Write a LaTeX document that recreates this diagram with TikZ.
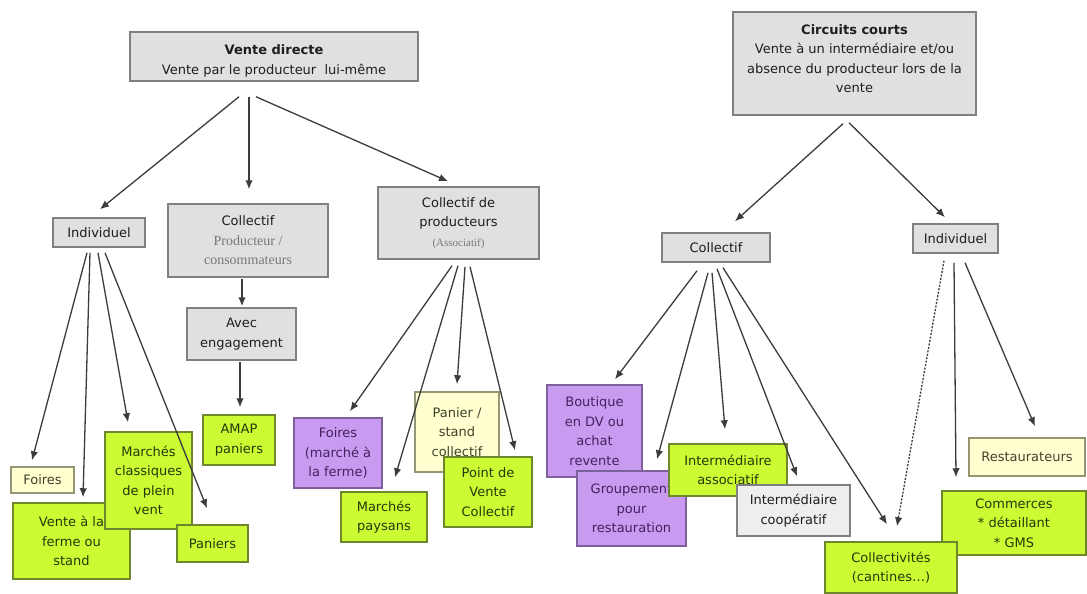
\documentclass[tikz,border=0pt]{standalone}
\usepackage{fontspec}
\setmainfont{DejaVu Sans}
\newfontfamily\serifgrey{Liberation Serif}
\usetikzlibrary{arrows.meta}

\definecolor{greyfill}{RGB}{224,224,224}
\definecolor{greydraw}{RGB}{128,128,128}
\definecolor{palefill}{RGB}{238,238,238}
\definecolor{limefill}{RGB}{204,250,51}
\definecolor{limedraw}{RGB}{110,135,45}
\definecolor{limetext}{RGB}{40,55,10}
\definecolor{purplefill}{RGB}{200,155,240}
\definecolor{purpledraw}{RGB}{125,95,155}
\definecolor{purpletext}{RGB}{65,35,95}
\definecolor{creamfill}{RGB}{255,255,208}
\definecolor{creamdraw}{RGB}{150,150,115}
\definecolor{creamtext}{RGB}{65,65,45}
\definecolor{linecol}{RGB}{60,60,60}
\definecolor{txtcol}{RGB}{30,30,30}
\definecolor{subgrey}{RGB}{120,120,120}

\newcommand{\shiftedlines}[2]{\raisebox{#1}[\height][\depth]{\begin{tabular}{@{}c@{}}#2\end{tabular}}}

\tikzset{
  box/.style={draw, line width=1.5pt, align=center, inner sep=2pt,
    font=\fontsize{13}{19.5}\selectfont, text=txtcol},
  greybox/.style={box, fill=greyfill, draw=greydraw},
  palebox/.style={box, fill=palefill, draw=greydraw},
  limebox/.style={box, fill=limefill, draw=limedraw, text=limetext},
  purplebox/.style={box, fill=purplefill, draw=purpledraw, text=purpletext},
  creambox/.style={box, fill=creamfill, draw=creamdraw, text=creamtext},
  conn/.style={draw=linecol, line width=1.3pt, -{Latex[length=9pt,width=7.5pt]}},
  dashconn/.style={conn, dash pattern=on 2pt off 1.5pt},
  sz/.style 2 args={minimum width=#1pt, minimum height=#2pt},
}

\begin{document}
\begin{tikzpicture}[x=1pt,y=1pt]
\useasboundingbox (0,0) rectangle (1087,-594);
\fill[white] (0,0) rectangle (1087,-594);

% ---- top level
\node[greybox, sz={288}{49}] (vd) at (274,-56.5)
  {\shiftedlines{-4pt}{\textbf{Vente directe}\\Vente par le producteur\ \ lui-même}};
\node[greybox, sz={243}{103}] (cc) at (854.5,-63.5)
  {\shiftedlines{4pt}{\textbf{Circuits courts}\\Vente à un intermédiaire et/ou\\absence du producteur lors de la\\vente}};

% ---- second level (left)
\node[greybox, sz={92}{29}] (indL) at (99,-232.5) {Individuel};
\node[greybox, sz={160}{73}] (collpc) at (248,-240.5)
  {Collectif\\{\serifgrey\fontsize{14}{19.5}\selectfont\color{subgrey}Producteur /}\\{\serifgrey\fontsize{14}{19.5}\selectfont\color{subgrey}consommateurs}};
\node[greybox, sz={109}{52}] (avec) at (241.5,-334) {Avec\\engagement};
\node[greybox, sz={161}{72}] (collprod) at (458.5,-223)
  {Collectif de\\producteurs\\{\serifgrey\fontsize{11}{19.5}\selectfont\color{subgrey}(Associatif)}};

% ---- second level (right)
\node[greybox, sz={108}{29}] (collR) at (716,-247.5) {Collectif};
\node[greybox, sz={85}{29}] (indR) at (955.5,-238.5) {Individuel};

% ---- leaves (left)
\node[creambox, sz={63}{26}] (foires) at (42.5,-480) {Foires};
\node[limebox, sz={117}{76}] (vferme) at (71.5,-541) {Vente à la\\ferme ou\\stand};
\node[limebox, sz={87}{97}] (mclass) at (148.5,-480.5) {Marchés\\classiques\\de plein\\vent};
\node[limebox, sz={71}{37}] (paniers) at (212.5,-543.5) {Paniers};
\node[limebox, sz={72}{50}] (amap) at (239,-440) {AMAP\\paniers};

\node[purplebox, sz={88}{70}] (foiresf) at (338,-453) {Foires\\(marché à\\la ferme)};
\node[creambox, sz={84}{80}] (panierst) at (457,-432) {Panier /\\stand\\collectif};
\node[limebox, sz={86}{50}] (mpays) at (384,-517) {Marchés\\paysans};
\node[limebox, sz={88}{70}] (pvc) at (488,-492) {Point de\\Vente\\Collectif};

% ---- leaves (right)
\node[purplebox, sz={95}{92}] (bout) at (594.5,-431) {Boutique\\en DV ou\\achat\\revente};
\node[purplebox, sz={109}{75}] (grp) at (631.5,-508.5) {Groupement\\pour\\restauration};
\node[limebox, sz={118}{52}] (iassoc) at (728,-470) {Intermédiaire\\associatif};
\node[palebox, sz={113}{51}] (icoop) at (793.5,-510.5) {Intermédiaire\\coopératif};
\node[creambox, sz={116}{38}] (resto) at (1027,-457) {Restaurateurs};
\node[limebox, sz={144}{64}] (comm) at (1014,-523) {Commerces\\* détaillant\\* GMS};
\node[limebox, sz={132}{51}] (collect) at (891,-567.5) {Collectivités\\(cantines…)};

% ---- connectors (left)
\draw[conn] ([shift={(-35,-15)}]vd.south) -- ([shift={(1,8)}]indL.north);
\draw[conn] ([shift={(-25,-15)}]vd.south) -- ([shift={(1,14)}]collpc.north);
\draw[conn] ([shift={(-18,-15)}]vd.south) -- ([shift={(-10.5,5)}]collprod.north);
\draw[conn] ([shift={(-6,-1)}]collpc.south) -- ([shift={(0.5,1)}]avec.north);
\draw[conn] ([shift={(-1.5,-1)}]avec.south) -- ([shift={(1,7)}]amap.north);

\draw[conn] ([shift={(-12,-5)}]indL.south) -- ([shift={(-10.5,6)}]foires.north);
\draw[conn] ([shift={(-9,-5)}]indL.south) -- ([shift={(11.5,5)}]vferme.north);
\draw[conn] ([shift={(-1,-5)}]indL.south) -- ([shift={(-20.5,9)}]mclass.north);
\draw[conn] ([shift={(6,-5)}]indL.south) -- ([shift={(-5.5,16)}]paniers.north);

\draw[conn] ([shift={(-6.5,-6)}]collprod.south) -- ([shift={(12,6)}]foiresf.north);
\draw[conn] ([shift={(-0.5,-6)}]collprod.south) -- ([shift={(11,14)}]mpays.north);
\draw[conn] ([shift={(6.5,-7)}]collprod.south) -- ([shift={(0,7)}]panierst.north);
\draw[conn] ([shift={(11.5,-7)}]collprod.south) -- ([shift={(27,6)}]pvc.north);

% ---- connectors (right)
\draw[conn] ([shift={(-11.5,-8)}]cc.south) -- ([shift={(19,11)}]collR.north);
\draw[conn] ([shift={(-5.5,-7)}]cc.south) -- ([shift={(-10.5,6)}]indR.north);

\draw[conn] ([shift={(-19,-8)}]collR.south) -- ([shift={(20.5,5)}]bout.north);
\draw[conn] ([shift={(-8,-10)}]collR.south) -- ([shift={(25.5,11)}]grp.north);
\draw[conn] ([shift={(-4,-10)}]collR.south) -- ([shift={(-3,14)}]iassoc.north);
\draw[conn] ([shift={(1,-6)}]collR.south) -- ([shift={(3.5,8)}]icoop.north);
\draw[conn] ([shift={(7,-5)}]collR.south) -- ([shift={(-4,17)}]collect.north);

\draw[dashconn] ([shift={(-11.5,-7)}]indR.south) -- ([shift={(6,15)}]collect.north);
\draw[conn] ([shift={(-1.5,-9)}]indR.south) -- ([shift={(-58,13)}]comm.north);
\draw[conn] ([shift={(9.5,-9)}]indR.south) -- ([shift={(8,11)}]resto.north);
\end{tikzpicture}
\end{document}
